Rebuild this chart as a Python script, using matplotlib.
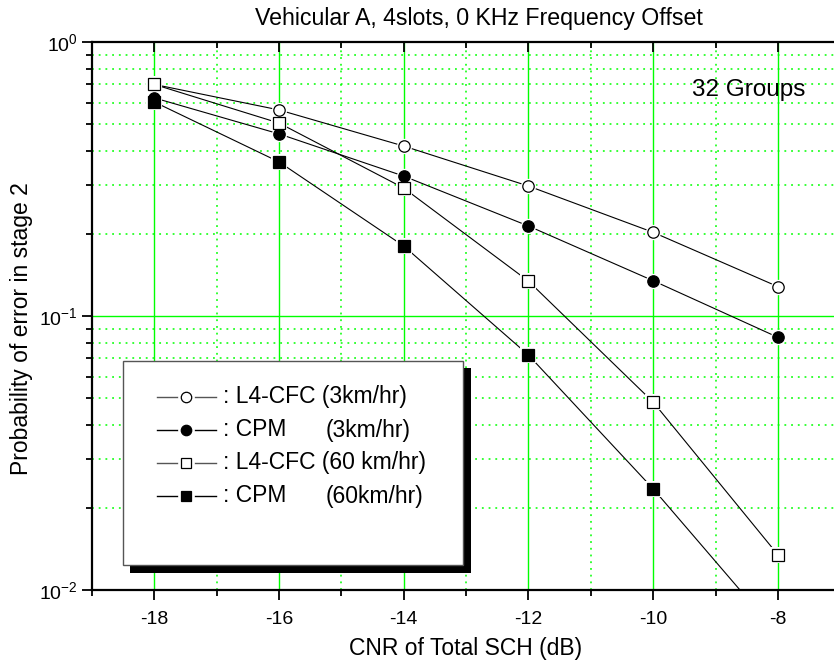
import numpy as np
import matplotlib
matplotlib.use("Agg")
import matplotlib.pyplot as plt
from matplotlib.lines import Line2D
from matplotlib.patches import Rectangle
from matplotlib.ticker import FixedLocator, LogLocator, NullFormatter

plt.rcParams["font.family"] = ["Liberation Sans", "DejaVu Sans"]
plt.rcParams["mathtext.fontset"] = "custom"
plt.rcParams["mathtext.rm"] = "Liberation Sans"

# ---- data ----
cnr_db = [-18, -16, -14, -12, -10, -8]
l4cfc_3 = [0.700, 0.565, 0.417, 0.298, 0.202, 0.128]
cpm_3 = [0.625, 0.462, 0.324, 0.213, 0.1345, 0.0836]
l4cfc_60 = [0.700, 0.506, 0.293, 0.134, 0.0485, 0.01345]
cpm_60 = [0.604, 0.365, 0.180, 0.072, 0.0234, 0.0069]

series = [
    (": L4-CFC (3km/hr)", l4cfc_3, "o", "white", "#555555"),
    (": CPM", cpm_3, "o", "black", "black"),
    (": L4-CFC (60 km/hr)", l4cfc_60, "s", "white", "#555555"),
    (": CPM", cpm_60, "s", "black", "black"),
]
speed_tags = [None, "(3km/hr)", None, "(60km/hr)"]

W, H = 834, 663
fig = plt.figure(figsize=(W / 100, H / 100), dpi=100)
ax = fig.add_axes([92 / W, (H - 590) / H, (W - 92) / W, 548 / H])

GREEN = "#00ff00"
ax.set_yscale("log")
ax.set_xlim(-19, -7.1)
ax.set_ylim(1e-2, 1)

# grid: solid at majors, dotted at minors
for x in range(-19, -7):
    if x % 2 == 0:
        ax.axvline(x, color=GREEN, lw=1.0, zorder=1)
    else:
        ax.axvline(x, color=GREEN, lw=1.1, ls=(0, (1.2, 3.2)), zorder=1)
ax.axhline(0.1, color=GREEN, lw=1.0, zorder=1)
for dec in (0.01, 0.1):
    for m in range(2, 10):
        ax.axhline(dec * m, color=GREEN, lw=1.1, ls=(0, (1.2, 3.2)), zorder=1)

# data lines, white halo gap, markers
for label, vals, mk, fc, lc in series:
    ax.plot(cnr_db, vals, color="black", lw=0.8, zorder=3)
for label, vals, mk, fc, lc in series:
    ax.plot(cnr_db, vals, ls="none", marker=mk, ms=11.0, mfc="white",
            mec="white", mew=0, zorder=4)
for label, vals, mk, fc, lc in series:
    ax.plot(cnr_db, vals, ls="none", marker=mk, ms=8.2, mfc=fc,
            mec="black", mew=0.9, zorder=5)

# ticks
ax.xaxis.set_major_locator(FixedLocator([-18, -16, -14, -12, -10, -8]))
ax.xaxis.set_minor_locator(FixedLocator([-19, -17, -15, -13, -11, -9, -7]))
ax.set_xticklabels(["-18", "-16", "-14", "-12", "-10", "-8"])
ax.yaxis.set_major_locator(FixedLocator([1e-2, 1e-1, 1]))
ax.set_yticklabels([r"$\mathregular{10^{-2}}$", r"$\mathregular{10^{-1}}$",
                    r"$\mathregular{10^{0}}$"])
ax.yaxis.set_minor_locator(LogLocator(base=10, subs=np.arange(2, 10)))
ax.yaxis.set_minor_formatter(NullFormatter())
ax.tick_params(axis="both", which="major", direction="out", length=7,
               width=1.3, labelsize=14, pad=3)
ax.tick_params(axis="both", which="minor", direction="out", length=4,
               width=1.3)
ax.tick_params(axis="x", which="both", top=True)
ax.tick_params(axis="x", which="major", pad=8)

for s in ("left", "bottom", "top"):
    ax.spines[s].set_linewidth(1.6)
ax.spines["right"].set_visible(False)

# top ticks point inward
for t in ax.xaxis.get_major_ticks() + ax.xaxis.get_minor_ticks():
    t.tick2line.set_marker(matplotlib.markers.TICKDOWN)

fig.text(479 / W, 1 - 19 / H, "Vehicular A, 4slots, 0 KHz Frequency Offset",
         ha="center", va="center", fontsize=16.7)
fig.text(466 / W, 1 - 648 / H, "CNR of Total SCH (dB)", ha="center",
         va="center", fontsize=16.5)
fig.text(22 / W, 1 - 329 / H, "Probability of error in stage 2",
         ha="center", va="center", rotation=90, fontsize=16.5)
ax.text((692 - 92) / 742, (590 - 90) / 548, "32 Groups", transform=ax.transAxes,
        ha="left", va="center", fontsize=17.5)

# legend box with drop shadow (figure pixel coords)
def fx(px):
    return px / W


def fy(py):
    return 1 - py / H


fig.patches.append(Rectangle((fx(130), fy(573)), fx(471) - fx(130),
                             fy(368) - fy(573), transform=fig.transFigure,
                             facecolor="black", edgecolor="none", zorder=10))
fig.patches.append(Rectangle((fx(123), fy(565)), fx(463) - fx(123),
                             fy(361) - fy(565), transform=fig.transFigure,
                             facecolor="white", edgecolor="#555555", lw=1.0,
                             zorder=11))
row_y = [397, 430, 463, 496]
for (label, vals, mk, fc, lc), tag, py in zip(series, speed_tags, row_y):
    fig.add_artist(Line2D([fx(157), fx(216)], [fy(py), fy(py)], color=lc,
                          lw=1.0, transform=fig.transFigure, zorder=12))
    fig.add_artist(Line2D([fx(186)], [fy(py)], marker="o", ls="none",
                          ms=11, mfc="white", mec="white",
                          transform=fig.transFigure, zorder=13))
    fig.add_artist(Line2D([fx(186)], [fy(py)], marker=mk, ls="none",
                          ms=7.5, mfc=fc, mec="black", mew=0.9,
                          transform=fig.transFigure, zorder=14))
    fig.text(fx(223), fy(py), label, ha="left", va="center", fontsize=16.5,
             zorder=15)
    if tag:
        fig.text(fx(326), fy(py), tag, ha="left", va="center",
                 fontsize=16.5, zorder=15)

fig.savefig("out.png", dpi=100)
